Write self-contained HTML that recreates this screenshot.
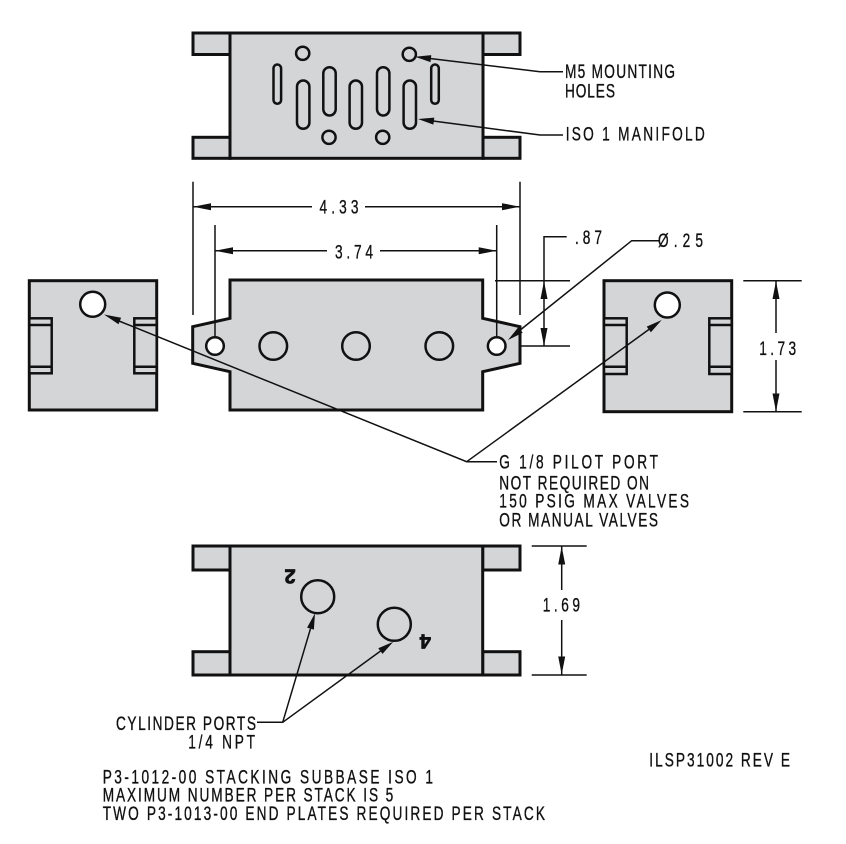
<!DOCTYPE html>
<html>
<head>
<meta charset="utf-8">
<style>
  html,body{margin:0;padding:0;background:#fff;}
  svg{display:block;}
  text{font-family:"Liberation Sans",sans-serif;font-size:19px;fill:#111;stroke:#111;stroke-width:0.35;}
</style>
</head>
<body>
<svg width="846" height="844" viewBox="0 0 846 844" xmlns="http://www.w3.org/2000/svg">
  <rect x="0" y="0" width="846" height="844" fill="#fff"/>

  <!-- ============ TOP VIEW ============ -->
  <g stroke="#111" stroke-width="3" fill="#d4d5d7">
    <rect x="193" y="33" width="37" height="21.5"/>
    <rect x="193" y="137.3" width="37" height="21"/>
    <rect x="483" y="33" width="37" height="21.5"/>
    <rect x="483" y="137.3" width="37" height="21"/>
    <rect x="230" y="33" width="253" height="125.3"/>
  </g>
  <g stroke="#111" stroke-width="2.5" fill="#d4d5d7">
    <rect x="273.5" y="64.5" width="7.6" height="39.3" rx="3.8"/>
    <rect x="297" y="80.5" width="12.4" height="48.3" rx="6.2"/>
    <rect x="323.3" y="67.2" width="12.4" height="48.3" rx="6.2"/>
    <rect x="349.6" y="80.5" width="12.4" height="48.3" rx="6.2"/>
    <rect x="377" y="67.2" width="12.4" height="48.3" rx="6.2"/>
    <rect x="403.6" y="80.5" width="12.4" height="48.3" rx="6.2"/>
    <rect x="431.2" y="64.5" width="7.6" height="39.3" rx="3.8"/>
    <circle cx="302.7" cy="53.3" r="6.6"/>
    <circle cx="409.3" cy="54.3" r="6.6"/>
    <circle cx="329" cy="137.3" r="6.6"/>
    <circle cx="382.7" cy="137.3" r="6.6"/>
  </g>
  <g stroke="#111" stroke-width="1.5" fill="none">
    <polyline points="430,58.5 540,71.7 563,71.7"/>
    <polyline points="433,121 540,135 563,135"/>
  </g>
  <g fill="#111" stroke="none">
    <polygon points="415,56.7 431.3,55.1 430.5,62.1"/>
    <polygon points="418,119 434.3,117.6 433.4,124.6"/>
  </g>
  <text transform="translate(565 78) scale(0.72 1)" x="0" y="0" textLength="152.8" lengthAdjust="spacing">M5 MOUNTING</text>
  <text transform="translate(565 97.3) scale(0.72 1)" x="0" y="0" textLength="69.4" lengthAdjust="spacing">HOLES</text>
  <text transform="translate(565.7 140.7) scale(0.72 1)" x="0" y="0" textLength="193.1" lengthAdjust="spacing">ISO 1 MANIFOLD</text>

  <!-- ============ MIDDLE VIEW ============ -->
  <g stroke="#111" stroke-width="1.5" fill="none">
    <line x1="193" y1="181.7" x2="193" y2="315"/>
    <line x1="520" y1="181.7" x2="520" y2="315"/>
    <line x1="193" y1="206.7" x2="312" y2="206.7"/>
    <line x1="365" y1="206.7" x2="520" y2="206.7"/>
    <line x1="215" y1="250.7" x2="327" y2="250.7"/>
    <line x1="380" y1="250.7" x2="496.7" y2="250.7"/>
    <line x1="495" y1="280.7" x2="570" y2="280.7"/>
    <line x1="510" y1="346" x2="570" y2="346"/>
    <polyline points="566.7,236.7 544,236.7 544,346"/>
    <line x1="743.3" y1="280.7" x2="801.7" y2="280.7"/>
    <line x1="743.3" y1="411.7" x2="801.7" y2="411.7"/>
    <line x1="776" y1="280.7" x2="776" y2="333"/>
    <line x1="776" y1="360" x2="776" y2="411.7"/>
  </g>
  <g fill="#111" stroke="none">
    <polygon points="193,206.7 211,203.2 211,210.2"/>
    <polygon points="520,206.7 502,203.2 502,210.2"/>
    <polygon points="215,250.7 233,247.2 233,254.2"/>
    <polygon points="496.7,250.7 478.7,247.2 478.7,254.2"/>
    <polygon points="544,281 540.5,299 547.5,299"/>
    <polygon points="544,346 540.5,328 547.5,328"/>
    <polygon points="776,281 772.5,299 779.5,299"/>
    <polygon points="776,411.5 772.5,393.5 779.5,393.5"/>
  </g>
  <text transform="translate(319.5 213.3) scale(0.72 1)" x="0" y="0" textLength="54.2" lengthAdjust="spacing">4.33</text>
  <text transform="translate(335 258.3) scale(0.72 1)" x="0" y="0" textLength="52.8" lengthAdjust="spacing">3.74</text>
  <text transform="translate(575 244) scale(0.72 1)" x="0" y="0" textLength="37.5" lengthAdjust="spacing">.87</text>
  <text transform="translate(658 247) scale(0.72 1)" x="0" y="0" textLength="62.5" lengthAdjust="spacing">Ø.25</text>
  <text transform="translate(759.3 355) scale(0.72 1)" x="0" y="0" textLength="51.1" lengthAdjust="spacing">1.73</text>

  <path d="M230,280 L482.7,280 L482.7,318.3 L520,326.7 L520,363.3 L482.7,371.7 L482.7,410 L230,410 L230,371.7 L192.7,363.3 L192.7,326.7 L230,318.3 Z"
        fill="#d4d5d7" stroke="#111" stroke-width="3" stroke-linejoin="miter"/>
  <g stroke="#111" stroke-width="1.5">
    <line x1="215" y1="225" x2="215" y2="336"/>
    <line x1="496.7" y1="225" x2="496.7" y2="336"/>
  </g>
  <g stroke="#111" stroke-width="2.5">
    <circle cx="215" cy="346" r="8.8" fill="#fff"/>
    <circle cx="496.7" cy="346" r="8.8" fill="#fff"/>
    <circle cx="273.3" cy="346" r="13.8" fill="#d4d5d7"/>
    <circle cx="356" cy="346" r="13.8" fill="#d4d5d7"/>
    <circle cx="439.3" cy="346" r="13.8" fill="#d4d5d7"/>
  </g>

  <!-- left end view -->
  <g stroke="#111" stroke-width="3" fill="#d4d5d7">
    <rect x="29.3" y="280.7" width="127.4" height="129.3"/>
  </g>
  <g stroke="#111" stroke-width="2.5" fill="#d4d5d7">
    <rect x="29.3" y="318.3" width="22.4" height="55"/>
    <rect x="134.3" y="318.3" width="22.4" height="55"/>
    <line x1="29.3" y1="325" x2="51.7" y2="325"/>
    <line x1="29.3" y1="366.7" x2="51.7" y2="366.7"/>
    <line x1="134.3" y1="325" x2="156.7" y2="325"/>
    <line x1="134.3" y1="366.7" x2="156.7" y2="366.7"/>
    <circle cx="92.7" cy="304.3" r="12.5" fill="#fff"/>
  </g>

  <!-- right end view -->
  <g stroke="#111" stroke-width="3" fill="#d4d5d7">
    <rect x="604" y="280.7" width="127.7" height="131"/>
  </g>
  <g stroke="#111" stroke-width="2.5" fill="#d4d5d7">
    <rect x="604" y="318.3" width="22.7" height="55.7"/>
    <rect x="709.3" y="318.3" width="22.4" height="55.7"/>
    <line x1="604" y1="325" x2="626.7" y2="325"/>
    <line x1="604" y1="366.7" x2="626.7" y2="366.7"/>
    <line x1="709.3" y1="325" x2="731.7" y2="325"/>
    <line x1="709.3" y1="366.7" x2="731.7" y2="366.7"/>
    <circle cx="667.3" cy="305" r="12.5" fill="#fff"/>
  </g>

  <g stroke="#111" stroke-width="1.5" fill="none">
    <polyline points="119,321 466.7,461.7 497,461.7"/>
    <line x1="466.7" y1="461.7" x2="649" y2="329.4"/>
    <polyline points="519,331 631.7,240.7 660,240.7"/>
  </g>
  <g fill="#111" stroke="none">
    <polygon points="104,314.5 121.1,317.8 118.5,324.2"/>
    <polygon points="661.7,320 650.9,332.2 646.7,326.6"/>
    <polygon points="508,340 522.7,332.7 518.3,327.3"/>
  </g>
  <text transform="translate(499.3 468.3) scale(0.72 1)" x="0" y="0" textLength="220.4" lengthAdjust="spacing">G 1/8 PILOT PORT</text>
  <text transform="translate(499.3 489.3) scale(0.72 1)" x="0" y="0" textLength="207.9" lengthAdjust="spacing">NOT REQUIRED ON</text>
  <text transform="translate(499.3 507.3) scale(0.72 1)" x="0" y="0" textLength="263.5" lengthAdjust="spacing">150 PSIG MAX VALVES</text>
  <text transform="translate(499.3 526.7) scale(0.72 1)" x="0" y="0" textLength="220.4" lengthAdjust="spacing">OR MANUAL VALVES</text>

  <!-- ============ BOTTOM VIEW ============ -->
  <g stroke="#111" stroke-width="3" fill="#d4d5d7">
    <rect x="193" y="546" width="37" height="24"/>
    <rect x="193" y="651.7" width="37" height="23.3"/>
    <rect x="482.7" y="546" width="37.3" height="24"/>
    <rect x="482.7" y="651.7" width="37.3" height="23.3"/>
    <rect x="230" y="546" width="252.7" height="129"/>
  </g>
  <g stroke="#111" stroke-width="2.5" fill="#d4d5d7">
    <circle cx="317.7" cy="596.7" r="16.5"/>
    <circle cx="394.3" cy="624.3" r="16.5"/>
  </g>
  <text x="290" y="583.7" text-anchor="middle" font-weight="bold" style="font-size:20px;stroke-width:0.8" transform="rotate(180 290 576.7)">2</text>
  <text x="425.3" y="648.7" text-anchor="middle" font-weight="bold" style="font-size:20px;stroke-width:0.8" transform="rotate(180 425.3 641.7)">4</text>

  <g stroke="#111" stroke-width="1.5" fill="none">
    <line x1="531.7" y1="546" x2="586.7" y2="546"/>
    <line x1="531.7" y1="675" x2="586.7" y2="675"/>
    <line x1="561.7" y1="546" x2="561.7" y2="590"/>
    <line x1="561.7" y1="620" x2="561.7" y2="675"/>
  </g>
  <g fill="#111">
    <polygon points="561.7,546.5 558.2,564.5 565.2,564.5"/>
    <polygon points="561.7,674.5 558.2,656.5 565.2,656.5"/>
  </g>
  <text transform="translate(542.7 611.7) scale(0.72 1)" x="0" y="0" textLength="51.8" lengthAdjust="spacing">1.69</text>

  <g stroke="#111" stroke-width="1.5" fill="none">
    <polyline points="257,722.3 282.7,722.3 310.5,628.6"/>
    <line x1="282.7" y1="722.3" x2="380.4" y2="651.1"/>
  </g>
  <g fill="#111">
    <polygon points="315,613.3 313.9,629.6 307.1,627.6"/>
    <polygon points="393.3,641.7 382.5,653.9 378.3,648.3"/>
  </g>
  <text transform="translate(116 730) scale(0.72 1)" x="0" y="0" textLength="194.4" lengthAdjust="spacing">CYLINDER PORTS</text>
  <text transform="translate(188.3 748.3) scale(0.72 1)" x="0" y="0" textLength="92.6" lengthAdjust="spacing">1/4 NPT</text>

  <text transform="translate(102.7 783.3) scale(0.72 1)" x="0" y="0" textLength="458.8" lengthAdjust="spacing">P3-1012-00 STACKING SUBBASE ISO 1</text>
  <text transform="translate(102.7 801.7) scale(0.72 1)" x="0" y="0" textLength="403.6" lengthAdjust="spacing">MAXIMUM NUMBER PER STACK IS 5</text>
  <text transform="translate(102.7 820) scale(0.72 1)" x="0" y="0" textLength="614.3" lengthAdjust="spacing">TWO P3-1013-00 END PLATES REQUIRED PER STACK</text>
  <text transform="translate(649.3 766.7) scale(0.72 1)" x="0" y="0" textLength="195.4" lengthAdjust="spacing">ILSP31002 REV E</text>
</svg>
</body>
</html>
